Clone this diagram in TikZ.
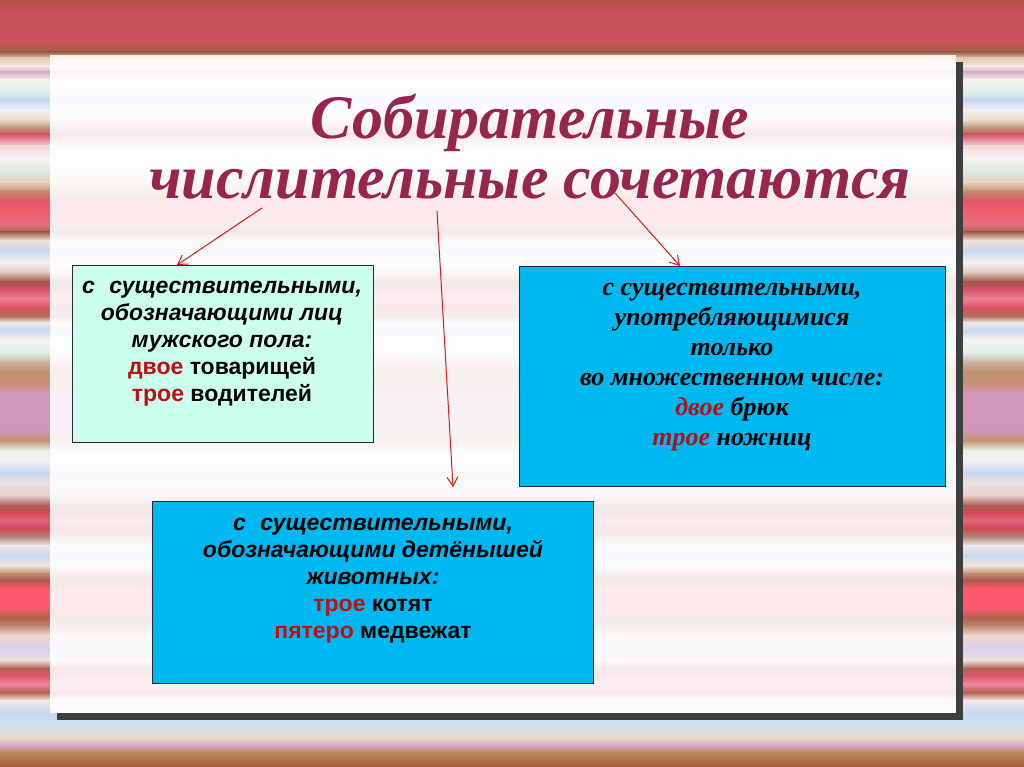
\documentclass[tikz,border=0pt]{standalone}
\usepackage{fontspec}
\setmainfont{Liberation Serif}
\newfontfamily\arialf{Liberation Sans}
\usetikzlibrary{arrows.meta,calc}
\definecolor{titlec}{RGB}{150,38,78}
\definecolor{lightbox}{RGB}{204,255,238}
\definecolor{bluebox}{HTML}{00B8F0}
\definecolor{boxline}{RGB}{40,40,50}
\definecolor{arrred}{RGB}{232,20,20}
\definecolor{wordred}{RGB}{192,14,20}
\definecolor{wordredt}{RGB}{172,18,30}
\definecolor{shadowc}{RGB}{62,62,62}
\tikzset{
  titlet/.style={font=\fontsize{62}{62}\selectfont\bfseries\itshape, text=titlec, inner sep=0},
  boxbase/.style={draw=boxline, line width=0.9pt, inner sep=0, outer sep=0},
  lightbx/.style={boxbase, fill=lightbox},
  bluebx/.style={boxbase, fill=bluebox},
  sanst/.style={font=\arialf\fontsize{23}{27}\selectfont\bfseries, align=center, inner sep=0, text=black},
  seriat/.style={font=\fontsize{26}{30}\selectfont\bfseries\itshape, align=center, inner sep=0, text=black},
  arr/.style={draw=arrred, line width=1pt, -{Straight Barb[length=9pt,width=11pt]}}
}
\begin{document}
\begin{tikzpicture}[x=1pt,y=-1pt]
\useasboundingbox (0,0) rectangle (1024,767);
% background stripes
\foreach \y/\c [remember=\y as \py (initially 0), remember=\c as \pc (initially B05048)] in {
 12/C8525A, 42/C8525A, 52/A0604A, 58/E8C8B0, 66/F0E8E0, 72/D8B0C8, 80/F4F0F0, 90/E0F0E8,
 100/C8D8F0, 110/F4F0F0, 120/E8D8C8, 128/C09078, 134/D05868, 140/E890A0, 146/F0D8D8,
 158/F8F4F0, 172/D8E8E0, 182/E8D0C0, 192/C08868, 200/E05868, 212/F06070, 224/E07080,
 232/A86050, 240/F0E0D8, 250/C8D8F0, 262/F4F0F0, 272/E0C8C8, 281/A05848, 288/D05060,
 298/F08098, 308/D85060, 316/B07060, 322/F0E8E8, 330/C8D8F0, 340/F4F4F0, 352/E0F0E8,
 362/D0B0A0, 372/C09070, 385/C89080, 392/D098B8, 430/D098B8, 440/C09070, 450/E8F0E8,
 460/F4F0F0, 472/C8D8F0, 482/F0E0E0, 495/E8D0D0, 505/A86050, 512/D04858, 520/E06878,
 528/D04858, 536/B08070, 545/F0E8E8, 555/C8D8F0, 565/F0E8E0, 573/C09070, 580/B05848,
 588/FF5A6E, 608/F85A70, 617/B06048, 625/C08070, 635/F0D8D0, 648/D8D0F0, 660/F0E0D8,
 668/B06050, 676/E05870, 684/F088A0, 692/B06050, 700/F0E8E8, 712/C8D8F0, 725/D0E0F0,
 738/E8D8C8, 745/D8A8C8, 752/C08860, 767/A05A30}
{
  \definecolor{sA}{HTML}{\pc}\definecolor{sB}{HTML}{\c}
  \shade[top color=sA, bottom color=sB] (0,\py) rectangle (1024,\y+0.6);
}
% panel with shadow
\fill[shadowc] (956,62) rectangle (963,720);
\fill[shadowc] (57,713) rectangle (963,720);
\fill[white, opacity=0.87] (50,55) rectangle (956,713);
% title
\node[titlet, anchor=base] (t1) at (530,139) {Собирательные};
\node[titlet, anchor=base] (t2) at (530,199) {числительные сочетаются};
% boxes
\node[lightbx, minimum width=301pt, minimum height=177pt] (b1) at (222.5,353.5) {};
\node[bluebx, minimum width=426pt, minimum height=220pt] (b2) at (732,376) {};
\node[bluebx, minimum width=441pt, minimum height=182pt] (b3) at (372.5,592) {};
% box texts
\node[sanst] (b1t) at (222,344) {\itshape с\hspace{0.35em} существительными,\\
 \itshape обозначающими лиц\\
 \itshape мужского пола:\\
 \textcolor{wordred}{двое} товарищей\\
 \textcolor{wordred}{трое} водителей};
\node[seriat] (b2t) at (732,367) {с существительными,\\
 употребляющимися\\
 только\\
 во множественном числе:\\
 \textcolor{wordredt}{двое} брюк\\
 \textcolor{wordredt}{трое} ножниц};
\node[sanst] (b3t) at (373,581) {\itshape с\hspace{0.35em} существительными,\\
 \itshape обозначающими детёнышей\\
 \itshape животных:\\
 \textcolor{wordred}{трое} котят\\
 \textcolor{wordred}{пятеро} медвежат};
% arrows
\coordinate (s1) at (262,208);
\coordinate (e1x) at (177,0);
\coordinate (s2) at (437,211);
\coordinate (e2) at (453,487);
\coordinate (s3) at (615,193);
\coordinate (e3x) at (680,0);
\draw[arr] (s1) -- (e1x |- b1.north);
\draw[arr] (s2) -- (e2);
\draw[arr] (s3) -- (e3x |- b2.north);
\end{tikzpicture}
\end{document}
